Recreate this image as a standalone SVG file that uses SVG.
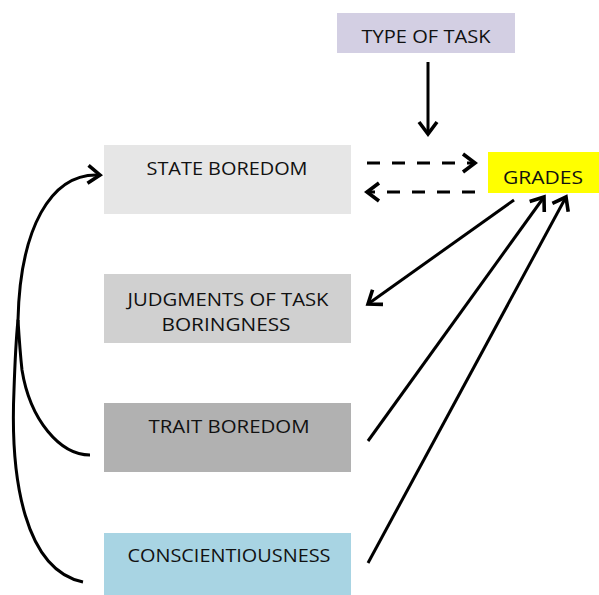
<svg xmlns="http://www.w3.org/2000/svg" width="599" height="595" viewBox="0 0 599 595">
  <style>
    .label { font-family: "Open Sans", "Liberation Sans", Arial, sans-serif; font-size: 18px; fill: #111; text-anchor: middle; }
    .edge { fill: none; stroke: #000; stroke-width: 3; stroke-linecap: butt; }
    .curve { fill: none; stroke: #000; stroke-width: 3; }
    .dashed { stroke-dasharray: 13 12; }
  </style>
  <defs>
    <marker id="head" markerUnits="userSpaceOnUse" markerWidth="24" markerHeight="24" viewBox="-12 -10 14 20" refX="0" refY="0" orient="auto">
      <path d="M -10,-7.5 L 0,0 L -10,7.5" fill="none" stroke="#000" stroke-width="3" stroke-linejoin="miter"/>
    </marker>
  </defs>
  <rect width="599" height="595" fill="#fff"/>

  <g id="connectors">
    <!-- type of task -> grades link -->
    <path class="edge" d="M 428,62 L 428,134" marker-end="url(#head)"/>
    <!-- state boredom <-> grades (dashed) -->
    <path class="edge dashed" d="M 367,163 L 475,163" marker-end="url(#head)"/>
    <path class="edge dashed" d="M 475,192 L 367,192" marker-end="url(#head)"/>
    <!-- grades -> judgments -->
    <path class="edge" d="M 514,200 L 368,304" marker-end="url(#head)"/>
    <!-- trait boredom -> grades -->
    <path class="edge" d="M 368,441 L 544,197" marker-end="url(#head)"/>
    <!-- conscientiousness -> grades -->
    <path class="edge" d="M 368,563 L 566,197" marker-end="url(#head)"/>
    <!-- left-side curves into state boredom -->
    <path class="curve" d="M 83,582 C 25,570 10,480 14,390 C 15,360 16,340 18,320 C 20,230 50,172 100,175" marker-end="url(#head)"/>
    <path class="curve" d="M 90,455 C 60,455 30,420 22,370 C 20,352 19,336 18,320"/>
  </g>

  <g id="type-of-task">
    <rect x="337" y="13" width="178" height="40" fill="#d3cfe3"/>
    <text class="label" x="426" y="43" textLength="129" lengthAdjust="spacingAndGlyphs">TYPE OF TASK</text>
  </g>

  <g id="grades">
    <rect x="488" y="152" width="111" height="41" fill="#ffff00"/>
    <text class="label" x="543" y="184" textLength="80" lengthAdjust="spacingAndGlyphs">GRADES</text>
  </g>

  <g id="state-boredom">
    <rect x="104" y="145" width="247" height="69" fill="#e6e6e6"/>
    <text class="label" x="227" y="175" textLength="161" lengthAdjust="spacingAndGlyphs">STATE BOREDOM</text>
  </g>

  <g id="judgments">
    <rect x="104" y="274" width="247" height="69" fill="#d0d0d0"/>
    <text class="label" x="228" y="306" textLength="201" lengthAdjust="spacingAndGlyphs">JUDGMENTS OF TASK</text>
    <text class="label" x="226" y="331" textLength="129" lengthAdjust="spacingAndGlyphs">BORINGNESS</text>
  </g>

  <g id="trait-boredom">
    <rect x="104" y="403" width="247" height="69" fill="#b1b1b1"/>
    <text class="label" x="229" y="433" textLength="161" lengthAdjust="spacingAndGlyphs">TRAIT BOREDOM</text>
  </g>

  <g id="conscientiousness">
    <rect x="104" y="533" width="247" height="62" fill="#a8d4e3"/>
    <text class="label" x="229" y="562" textLength="203" lengthAdjust="spacingAndGlyphs">CONSCIENTIOUSNESS</text>
  </g>
</svg>
